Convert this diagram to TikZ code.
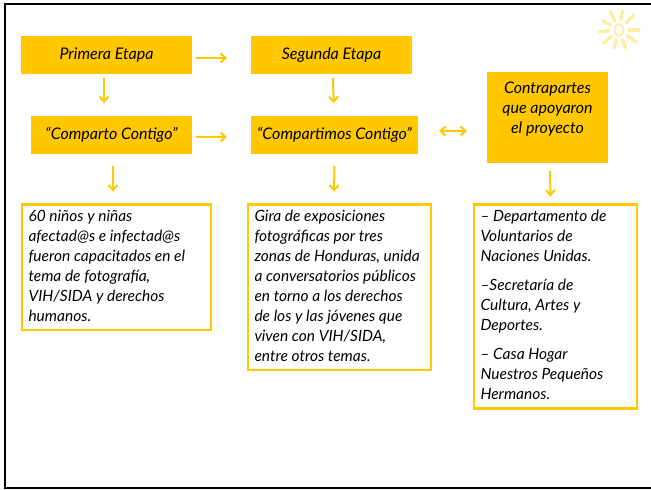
\documentclass[tikz,border=0pt]{standalone}
\usepackage{fontspec}
\setmainfont{Lato}[ItalicFont={Lato Italic}]
\usetikzlibrary{arrows.meta}
\definecolor{gold}{RGB}{255,200,0}
\definecolor{sunray}{RGB}{255,238,160}
\tikzset{
  x=1pt,y=-1pt,
  goldbox/.style={fill=gold,draw=none,inner sep=0pt,outer sep=0pt,anchor=north west,align=center,font=\fontsize{16}{20}\selectfont\itshape,text=black},
  textbox/.style={draw=gold,line width=2.6pt,fill=white,inner xsep=6.5pt,inner ysep=2.5pt,outer sep=0pt,anchor=north west,font=\fontsize{15.5}{20}\selectfont\itshape,text=black},
  flow/.style={draw=gold,line width=2pt,-{Straight Barb[length=5pt,width=9pt,line width=2pt]}},
  flowboth/.style={draw=gold,line width=2pt,{Straight Barb[length=5pt,width=9pt,line width=2pt]}-{Straight Barb[length=5pt,width=9pt,line width=2pt]}},
  ray/.style={draw=sunray,line width=3.2pt,line cap=round}
}
\newcommand{\bx}[3]{\parbox[t][#2pt][t]{#1pt}{\setlength{\baselineskip}{20pt}\rule{0pt}{14pt}\ignorespaces #3}}
\newcommand{\up}[1]{\raisebox{2pt}{#1}}
\begin{document}
\begin{tikzpicture}
\useasboundingbox (0,0) rectangle (651,490);
\fill[white] (0,0) rectangle (651,490);
% frame
\draw[black,line width=2.4pt] (651,4) -- (5,4) -- (5,488) -- (651,488);
% sun
\foreach \a/\r in {0/14,35/15,70/14,105/13,140/15,175/14,210/13,245/15,280/14,315/15}{
  \draw[ray] (619,30) ++(\a:10) -- ++(\a:\r-4);
}
\draw[sunray,line width=1.6pt] (619,30) ellipse (4.5 and 6);
% boxes
\node[goldbox,minimum width=171pt,minimum height=38pt] (p) at (21,36) {\up{Primera Etapa}};
\node[goldbox,minimum width=161pt,minimum height=38pt] (s) at (251,36) {\up{Segunda Etapa}};
\node[goldbox,minimum width=161pt,minimum height=38pt] (c) at (31,116) {\up{“Comparto Contigo”}};
\node[goldbox,minimum width=167pt,minimum height=38pt] (m) at (251,116) {\up{“Compartimos Contigo”}};
\node[goldbox,minimum width=121pt,minimum height=91pt] (k) at (487,72) {Contrapartes\\que apoyaron\\el proyecto\\\mbox{}};
\node[textbox] (w1) at (22,204.5) {\bx{176}{120.5}{60 niños y niñas\\afectad@s e infectad@s\\fueron capacitados en el\\tema de fotografía,\\VIH/SIDA y derechos\\humanos.}};
\node[textbox] (w2) at (248,204.5) {\bx{170}{160.5}{Gira de exposiciones\\fotográficas por tres\\zonas de Honduras, unida\\a conversatorios públicos\\en torno a los derechos\\de los y las jóvenes que\\viven con VIH/SIDA,\\entre otros temas.}};
\node[textbox] (w3) at (474,204.5) {\bx{150}{199}{– Departamento de\\Voluntarios de\\Naciones Unidas.\\[9pt]–Secretaría de\\Cultura, Artes y\\Deportes.\\[9pt]– Casa Hogar\\Nuestros Pequeños\\Hermanos.}};
% connectors
\draw[flow,shorten <=4pt,shorten >=24pt] ([yshift=-3pt]p.east) -- ([yshift=-3pt]s.west);
\draw[flow,shorten <=4pt,shorten >=24pt] ([yshift=-2pt]c.east) -- ([yshift=-2pt]m.west);
\draw[flow,shorten <=4pt,shorten >=13pt] ([xshift=-2.5pt]p.south) -- ([xshift=-7.5pt]c.north);
\draw[flow,shorten <=4pt,shorten >=13pt] ([xshift=1pt]s.south) -- (m.north);
\draw[flow,shorten <=12pt,shorten >=13pt] ([xshift=1.5pt]c.south) -- ([xshift=-3.5pt]w1.north);
\draw[flow,shorten <=12pt,shorten >=13pt] (m.south) -- ([xshift=-5.5pt]w2.north);
\draw[flow,shorten <=8pt,shorten >=8pt] ([xshift=2.5pt]k.south) -- ([xshift=-5pt]w3.north);
\draw[flowboth,shorten <=21pt,shorten >=20pt] ([yshift=4pt]m.east) -- ([yshift=-13.5pt]k.west);
\end{tikzpicture}
\end{document}
